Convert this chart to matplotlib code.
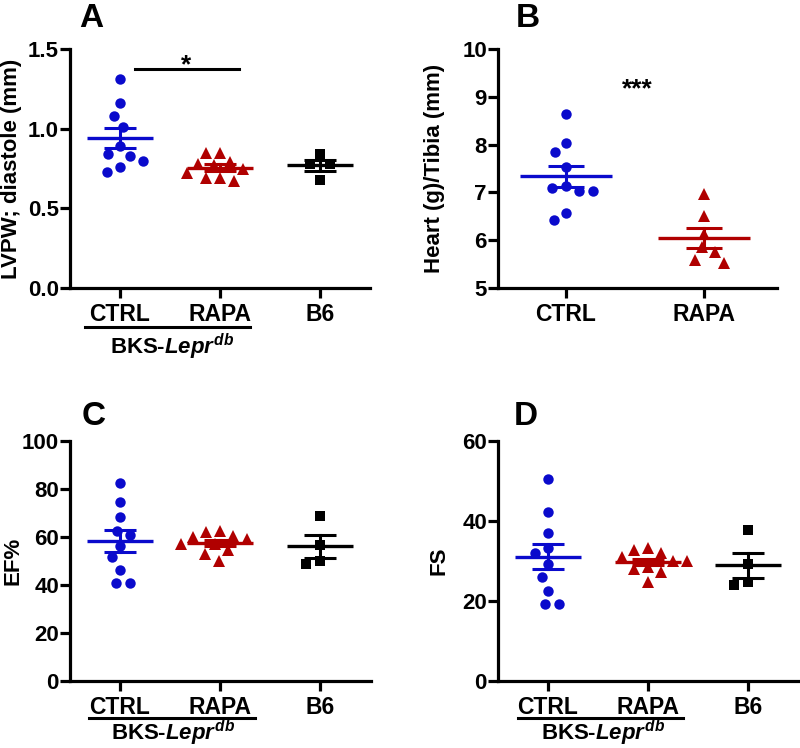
import numpy as np
import matplotlib
matplotlib.use("Agg")
import matplotlib.pyplot as plt
import matplotlib.transforms as mtrans

plt.rcParams['font.family'] = ['Liberation Sans', 'DejaVu Sans']
plt.rcParams['font.weight'] = 'bold'
plt.rcParams['mathtext.fontset'] = 'custom'
plt.rcParams['mathtext.it'] = 'Liberation Sans:italic:bold'
plt.rcParams['mathtext.rm'] = 'Liberation Sans:bold'

# ---------------- data ----------------
groups3 = ["CTRL", "RAPA", "B6"]
groups2 = ["CTRL", "RAPA"]

lvpw_ctrl = [1.31, 1.16, 1.08, 1.01, 0.89, 0.84, 0.80, 0.83, 0.76, 0.73]
lvpw_rapa = [0.85, 0.85, 0.78, 0.79, 0.77, 0.75, 0.72, 0.69, 0.67, 0.69]
lvpw_b6 = [0.84, 0.78, 0.78, 0.68]

heart_ctrl = [8.64, 8.03, 7.85, 7.54, 7.14, 7.03, 7.03, 7.09, 6.56, 6.42]
heart_rapa = [6.96, 6.51, 6.14, 5.75, 5.85, 5.59, 5.52]

ef_ctrl = [82.4, 74.7, 68.2, 60.8, 62.5, 56.3, 51.5, 46.3, 40.7, 40.7]
ef_rapa = [62.0, 62.5, 60.0, 60.5, 59.0, 54.5, 53.0, 50.0, 57.0, 57.0]
ef_b6 = [68.9, 56.7, 48.6, 50.1]

fs_ctrl = [50.4, 42.3, 36.9, 32.1, 33.2, 29.2, 26.1, 22.6, 19.2, 19.2]
fs_rapa = [31.0, 32.8, 33.2, 32.0, 28.0, 28.6, 27.3, 24.7, 30.0, 30.0]
fs_b6 = [37.8, 29.2, 24.0, 24.7]

BLUE = "#0a0acc"
RED = "#b00000"
BLACK = "#000000"
colors3 = [BLUE, RED, BLACK]
markers3 = ["o", "^", "s"]
msizes3 = [7.5, 9.0, 7.5]

W, H = 800, 748
fig = plt.figure(figsize=(W / 100, H / 100), dpi=100)


def add_ax(l, r, t, b):
    return fig.add_axes([l / W, 1 - b / H, (r - l) / W, (b - t) / H])


def swarm_x(ax, xc, ys, diam):
    pts = ax.transData.transform([(xc, y) for y in ys])
    px0 = pts[0, 0]
    pys = pts[:, 1]
    placed = []
    offs = np.zeros(len(ys))
    for i in np.argsort(-pys):
        y = pys[i]
        cands = [0.0]
        for xo, yo in placed:
            dy = y - yo
            if abs(dy) < diam:
                dx = np.sqrt(diam ** 2 - dy ** 2)
                cands += [xo + dx, xo - dx]
        cands.sort(key=lambda c: (abs(c), c))
        chosen = cands[-1]
        for c in cands:
            if all((c - xo) ** 2 + (y - yo) ** 2 >= diam ** 2 - 1e-6 for xo, yo in placed):
                chosen = c
                break
        placed.append((chosen, y))
        offs[i] = chosen
    inv = ax.transData.inverted()
    return inv.transform(np.column_stack([px0 + offs, pys]))[:, 0]


def style_ax(ax, ylim, yticks, yticklabels, cats, xlim, ylabel, labx):
    ax.set_xlim(*xlim)
    ax.set_ylim(*ylim)
    for s in ["top", "right"]:
        ax.spines[s].set_visible(False)
    for s in ["left", "bottom"]:
        ax.spines[s].set_linewidth(2.3)
    ax.set_yticks(yticks)
    ax.set_yticklabels(yticklabels, fontsize=16, fontweight='bold')
    ax.set_xticks(range(len(cats)))
    ax.set_xticklabels(cats, fontsize=16.5, fontweight='bold')
    ax.tick_params(direction='out', length=7, width=2.3)
    ax.tick_params(axis='y', pad=1)
    ax.tick_params(axis='x', pad=4)
    ax.set_ylabel(ylabel, fontsize=16, fontweight='bold')
    ax.yaxis.set_label_coords(labx, 0.5)


def draw_groups(ax, datasets, mean_hw, cap_hw):
    for i, vals in enumerate(datasets):
        vals = np.asarray(vals, float)
        xs = swarm_x(ax, i, vals, 14.0)
        ax.plot(xs, vals, linestyle='none', marker=markers3[i], color=colors3[i],
                markersize=msizes3[i], markeredgewidth=0, zorder=2, clip_on=False)
        m = vals.mean()
        sem = vals.std(ddof=1) / np.sqrt(len(vals))
        c = colors3[i]
        ax.plot([i - mean_hw, i + mean_hw], [m, m], color=c, lw=2.4, zorder=3,
                solid_capstyle='butt')
        ax.plot([i, i], [m - sem, m + sem], color=c, lw=2.2, zorder=3)
        for v in (m - sem, m + sem):
            ax.plot([i - cap_hw, i + cap_hw], [v, v], color=c, lw=2.2, zorder=3,
                    solid_capstyle='butt')


def group_bracket(ax, x0, x1, ly, ty, tx):
    tr = mtrans.blended_transform_factory(ax.transData, ax.transAxes)
    ax.plot([x0, x1], [ly, ly], color='black', lw=2.2, transform=tr, clip_on=False)
    ax.text(tx, ty, r'BKS-$\mathit{Lepr}^{\mathit{db}}$', transform=tr,
            ha='center', va='center', fontsize=16, fontweight='bold')


# ---------- Panel A ----------
axA = add_ax(70, 370, 49, 288)
style_ax(axA, (0, 1.5), [0, 0.5, 1.0, 1.5], ["0.0", "0.5", "1.0", "1.5"],
         groups3, (-0.5, 2.5), "LVPW; diastole (mm)", -0.16)
draw_groups(axA, [lvpw_ctrl, lvpw_rapa, lvpw_b6], 0.33, 0.16)
axA.plot([0.15, 1.19], [1.375, 1.375], color='black', lw=2.2, clip_on=False)
axA.text(0.66, 1.32, "*", ha='center', va='bottom', fontsize=19, fontweight='bold')
group_bracket(axA, -0.35, 1.3, -0.163, -0.245, 0.52)

# ---------- Panel B ----------
axB = add_ax(498, 777, 49, 288)
style_ax(axB, (5, 10), [5, 6, 7, 8, 9, 10], ["5", "6", "7", "8", "9", "10"],
         groups2, (-0.493, 1.53), "Heart (g)/Tibia (mm)", -0.19)
draw_groups(axB, [heart_ctrl, heart_rapa], 0.333, 0.13)
axB.text(0.52, 8.9, "***", ha='center', va='bottom', fontsize=19, fontweight='bold')

# ---------- Panel C ----------
axC = add_ax(70, 371, 441, 681)
style_ax(axC, (0, 100), [0, 20, 40, 60, 80, 100], ["0", "20", "40", "60", "80", "100"],
         groups3, (-0.5, 2.51), "EF%", -0.156)
draw_groups(axC, [ef_ctrl, ef_rapa, ef_b6], 0.33, 0.16)
group_bracket(axC, -0.31, 1.35, -0.154, -0.218, 0.53)

# ---------- Panel D ----------
axD = add_ax(498, 800, 441, 681)
style_ax(axD, (0, 60), [0, 20, 40, 60], ["0", "20", "40", "60"],
         groups3, (-0.5, 2.52), "FS", -0.159)
draw_groups(axD, [fs_ctrl, fs_rapa, fs_b6], 0.33, 0.16)
group_bracket(axD, -0.3, 1.35, -0.154, -0.218, 0.55)

# ---------- panel letters ----------
for lab, x, y in [("A", 79, 27), ("B", 516, 27), ("C", 82, 425), ("D", 514, 425)]:
    fig.text(x / W, 1 - y / H, lab, fontsize=24, fontweight='bold',
             ha='left', va='baseline')

fig.savefig("out.png", dpi=100)
